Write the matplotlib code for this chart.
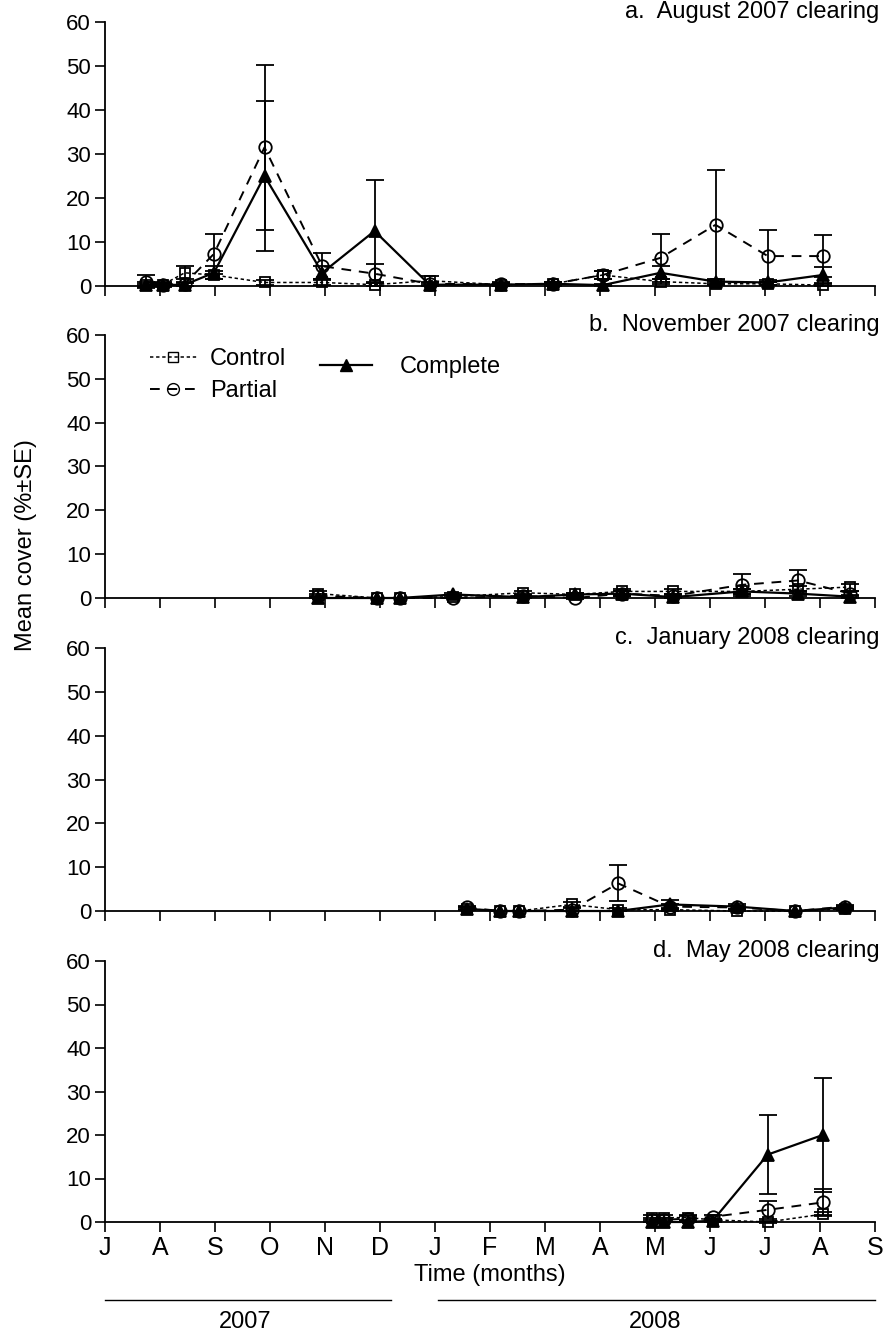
import matplotlib
matplotlib.use('Agg')
import matplotlib.pyplot as plt
from matplotlib.lines import Line2D

plt.rcParams['font.family'] = ['Liberation Sans', 'DejaVu Sans']

# ---------------- data ----------------
month_labels = ['J', 'A', 'S', 'O', 'N', 'D', 'J', 'F', 'M', 'A', 'M', 'J', 'J', 'A', 'S']
y_ticks = [0, 10, 20, 30, 40, 50, 60]
panel_titles = ['a.  August 2007 clearing', 'b.  November 2007 clearing',
                'c.  January 2008 clearing', 'd.  May 2008 clearing']
series_names = ['Control', 'Partial', 'Complete']
year_labels = ['2007', '2008']

# time in months since 1 July 2007
t_a = [0.75, 1.05, 1.45, 1.98, 2.9, 3.95, 4.9, 5.9, 7.2, 8.15, 9.05, 10.1, 11.1, 12.05, 13.05]
control_a = [0.3, 0.3, 3.0, 2.5, 0.8, 0.8, 0.3, 1.2, 0.3, 0.5, 2.5, 1.0, 0.5, 0.5, 0.2]
control_a_se = [0.5, 0.5, 1.5, 1.0, 0.5, 0.5, 0.3, 1.0, 0.3, 0.3, 0.8, 0.5, 0.3, 0.3, 0.3]
partial_a = [1.0, 0.3, 0.5, 7.3, 31.5, 4.5, 2.8, 0.5, 0.4, 0.5, 2.5, 6.4, 13.9, 6.8, 6.8]
partial_a_se = [1.5, 0.3, 0.5, 4.5, 18.8, 3.0, 2.2, 0.5, 0.5, 0.5, 1.0, 5.5, 12.5, 6.0, 4.8]
complete_a = [0.2, 0.2, 0.3, 3.0, 25.0, 3.0, 12.5, 0.3, 0.3, 0.5, 0.2, 3.0, 1.0, 0.8, 2.5]
complete_a_se = [0.2, 0.2, 0.3, 1.5, 17.0, 1.5, 11.5, 0.3, 0.3, 0.3, 0.2, 1.5, 0.5, 0.5, 1.8]

t_b = [3.87, 4.95, 5.36, 6.33, 7.6, 8.55, 9.4, 10.33, 11.58, 12.6, 13.55]
control_b = [1.0, 0.0, 0.0, 0.3, 1.2, 0.8, 1.5, 1.5, 1.5, 2.0, 2.5]
control_b_se = [0.5, 0.0, 0.0, 0.3, 0.5, 0.3, 0.5, 0.5, 0.5, 0.8, 0.8]
partial_b = [0.5, 0.0, 0.0, 0.0, 0.5, 0.0, 1.0, 0.5, 3.0, 4.0, 1.0]
partial_b_se = [0.3, 0.0, 0.0, 0.0, 0.3, 0.3, 0.5, 0.3, 2.5, 2.5, 0.5]
complete_b = [0.0, 0.0, 0.0, 0.8, 0.2, 0.8, 1.0, 0.2, 1.5, 1.0, 0.3]
complete_b_se = [0.0, 0.0, 0.0, 0.3, 0.2, 0.3, 0.5, 0.2, 0.5, 0.5, 0.3]

t_c = [6.58, 7.18, 7.53, 8.49, 9.33, 10.27, 11.49, 12.55, 13.45]
control_c = [0.5, 0.0, 0.0, 1.5, 0.3, 0.3, 0.0, 0.0, 0.5]
control_c_se = [0.3, 0.0, 0.0, 0.5, 0.3, 0.3, 0.0, 0.0, 0.3]
partial_c = [0.8, 0.0, 0.0, 0.3, 6.3, 1.0, 0.8, 0.0, 1.0]
partial_c_se = [0.3, 0.0, 0.0, 0.3, 4.1, 0.5, 0.3, 0.0, 0.3]
complete_c = [0.5, 0.0, 0.0, 0.0, 0.0, 1.5, 1.0, 0.0, 0.8]
complete_c_se = [0.3, 0.0, 0.0, 0.0, 0.0, 1.0, 0.5, 0.0, 0.3]

t_d = [9.95, 10.16, 10.6, 11.05, 12.05, 13.05]
control_d = [1.0, 1.0, 1.0, 0.5, 0.0, 1.8]
control_d_se = [0.5, 0.5, 0.5, 0.3, 0.3, 0.5]
partial_d = [0.5, 0.5, 0.8, 1.2, 2.8, 4.5]
partial_d_se = [0.5, 0.5, 0.5, 0.5, 2.0, 3.0]
complete_d = [0.0, 0.0, 0.0, 0.3, 15.5, 20.0]
complete_d_se = [0.0, 0.0, 0.0, 0.3, 9.0, 13.0]

panels = [
    (t_a, control_a, control_a_se, partial_a, partial_a_se, complete_a, complete_a_se),
    (t_b, control_b, control_b_se, partial_b, partial_b_se, complete_b, complete_b_se),
    (t_c, control_c, control_c_se, partial_c, partial_c_se, complete_c, complete_c_se),
    (t_d, control_d, control_d_se, partial_d, partial_d_se, complete_d, complete_d_se),
]

# ---------------- styles ----------------
styles = {
    'Control': dict(marker='s', ms=7.5, ls=(0, (2.2, 1.8)), lw=1.1, mfc='none'),
    'Partial': dict(marker='o', ms=9, ls=(0, (5, 4)), lw=1.4, mfc='none'),
    'Complete': dict(marker='^', ms=8.5, ls='-', lw=1.6, mfc='black'),
}

FS = 17

fig = plt.figure(figsize=(8.86, 13.32), dpi=100)
left, width = 105 / 886, 770 / 886
tops_bottoms = [(22, 286), (335, 598), (648, 911), (961, 1222)]
axes = []
for i, (top, bot) in enumerate(tops_bottoms):
    ax = fig.add_axes([left, 1 - bot / 1332, width, (bot - top) / 1332])
    axes.append(ax)
    t, c, cse, p, pse, k, kse = panels[i]
    for name, y, e in [('Control', c, cse), ('Partial', p, pse), ('Complete', k, kse)]:
        st = styles[name]
        ax.errorbar(t, y, yerr=e, color='black', ecolor='black', elinewidth=1.3,
                    capsize=6.5, capthick=1.4, marker=st['marker'], ms=st['ms'],
                    mfc=st['mfc'], mec='black', mew=1.3, ls=st['ls'], lw=st['lw'],
                    clip_on=False, zorder=3)
    ax.set_xlim(0, 14)
    ax.set_ylim(0, 60)
    ax.set_yticks(y_ticks)
    ax.set_xticks(range(len(month_labels)))
    ax.spines['top'].set_visible(False)
    ax.spines['right'].set_visible(False)
    for s in ['left', 'bottom']:
        ax.spines[s].set_linewidth(1.3)
    ax.tick_params(axis='both', direction='out', length=7, width=1.2, labelsize=16)
    ax.tick_params(axis='y', pad=3)
    ax.tick_params(axis='x', pad=3)
    if i < 3:
        ax.set_xticklabels([])
    else:
        ax.set_xticklabels(month_labels, fontsize=18)
    ax.text(1.006, 1.037, panel_titles[i], transform=ax.transAxes, ha='right',
            va='center', fontsize=FS)

# legend in panel b
handles = {}
for name in series_names:
    st = styles[name]
    handles[name] = Line2D([], [], color='black', marker=st['marker'], ms=st['ms'] - 0.5,
                           mfc=st['mfc'], mec='black', ls=st['ls'], lw=st['lw'])
leg1 = axes[1].legend([handles['Control'], handles['Partial']], ['Control', 'Partial'],
                      frameon=False, loc='upper left', bbox_to_anchor=(0.058, 0.95),
                      fontsize=FS, handlelength=2.0, handletextpad=0.55,
                      labelspacing=0.42, borderpad=0, borderaxespad=0)
axes[1].add_artist(leg1)
axes[1].legend([handles['Complete']], ['Complete'], frameon=False, loc='upper left',
               bbox_to_anchor=(0.279, 0.92), fontsize=FS, handlelength=2.2,
               handletextpad=1.2, borderpad=0, borderaxespad=0)

# axis labels
axd = axes[3]
axd.set_xlabel('Time (months)', fontsize=FS, labelpad=3)
fig.text(26 / 886, 1 - 545 / 1332, 'Mean cover (%±SE)', rotation=90, ha='center',
         va='center', fontsize=FS)

# year bars
trans = axd.get_xaxis_transform()
year_spans = [(0.0, 5.2), (6.05, 14.0)]
year_centers = [2.55, 10.0]
for (x0, x1), xc, lab in zip(year_spans, year_centers, year_labels):
    axd.add_line(Line2D([x0, x1], [-0.30, -0.30], transform=trans, color='black',
                        lw=1.0, clip_on=False))
    axd.text(xc, -0.385, lab, transform=trans, ha='center', va='center', fontsize=FS)

fig.savefig('out.png', dpi=100)
